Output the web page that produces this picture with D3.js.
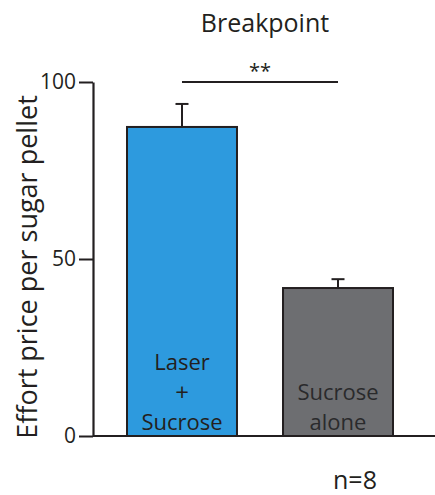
<!DOCTYPE html>
<html>
<head>
<meta charset="utf-8">
<script src="https://cdn.jsdelivr.net/npm/d3@7"></script>
<style>
  body { margin: 0; background: #fff; }
  text { font-family: "Open Sans", "Noto Sans", sans-serif; fill: #231f20; }
</style>
</head>
<body>
<div id="chart"></div>
<script>
// data
let groups = ["laser", "alone"];
let labels = [["Laser", "+", "Sucrose"], ["Sucrose", "alone"]];
let means = [87.3, 41.8];
let errors = [6.5, 2.5];
let colors = ["#2d9ade", "#6d6e71"];
let yTicks = [0, 50, 100];

let width = 435, height = 495;

let svg = d3.select("#chart")
    .append("svg")
    .attr("width", width)
    .attr("height", height);

let x = d3.scaleBand()
    .domain(groups)
    .range([127, 393])
    .paddingInner(0.295)
    .paddingOuter(0);

let y = d3.scaleLinear()
    .domain([0, 100])
    .range([436, 82]);

// title
svg.append("text")
    .attr("x", 265)
    .attr("y", 32)
    .attr("text-anchor", "middle")
    .style("font-size", "25px")
    .text("Breakpoint");

// y axis
let yAxis = svg.append("g")
    .attr("transform", "translate(93,0)")
    .call(d3.axisLeft(y).tickValues(yTicks).tickSize(14).tickSizeOuter(0).tickPadding(3));
yAxis.select(".domain").attr("stroke", "#231f20").attr("stroke-width", 2.2);
yAxis.selectAll(".tick line").attr("stroke", "#231f20").attr("stroke-width", 2);
yAxis.selectAll(".tick text")
    .style("font-size", "21px")
    .style("font-family", "'Open Sans', sans-serif")
    .attr("fill", "#231f20");

svg.append("text")
    .attr("transform", "translate(37," + 267 + ") rotate(-90)")
    .attr("text-anchor", "middle")
    .style("font-size", "27px")
    .text("Effort price per sugar pellet");

// bars
let bars = svg.append("g")
    .selectAll("g")
    .data(groups)
    .enter()
    .append("g");

bars.append("rect")
    .attr("x", d => x(d))
    .attr("y", (d, i) => y(means[i]))
    .attr("width", x.bandwidth())
    .attr("height", (d, i) => y(0) - y(means[i]))
    .attr("fill", (d, i) => colors[i])
    .attr("stroke", "#231f20")
    .attr("stroke-width", 2);

// error bars
bars.append("line")
    .attr("x1", d => x(d) + x.bandwidth() / 2)
    .attr("x2", d => x(d) + x.bandwidth() / 2)
    .attr("y1", (d, i) => y(means[i]))
    .attr("y2", (d, i) => y(means[i] + errors[i]))
    .attr("stroke", "#231f20")
    .attr("stroke-width", 2);

bars.append("line")
    .attr("x1", d => x(d) + x.bandwidth() / 2 - 6.5)
    .attr("x2", d => x(d) + x.bandwidth() / 2 + 6.5)
    .attr("y1", (d, i) => y(means[i] + errors[i]))
    .attr("y2", (d, i) => y(means[i] + errors[i]))
    .attr("stroke", "#231f20")
    .attr("stroke-width", 2);

// labels inside the bars
bars.each(function(d, i) {
    let lines = labels[i];
    let cx = x(d) + x.bandwidth() / 2;
    d3.select(this).selectAll(".lbl")
        .data(lines)
        .enter()
        .append("text")
        .attr("class", "lbl")
        .attr("x", cx)
        .attr("y", (t, j) => y(0) - 6 - (lines.length - 1 - j) * 30 + (t == "+" ? 1 : 0))
        .attr("text-anchor", "middle")
        .style("font-size", t => t == "+" ? "24px" : "22px")
        .style("fill", i == 0 ? "#231f20" : "#2a2a2c")
        .text(t => t);
});

// baseline
svg.append("line")
    .attr("x1", 93)
    .attr("x2", width)
    .attr("y1", y(0))
    .attr("y2", y(0))
    .attr("stroke", "#231f20")
    .attr("stroke-width", 2);

// significance
let c0 = x(groups[0]) + x.bandwidth() / 2;
let c1 = x(groups[1]) + x.bandwidth() / 2;
svg.append("line")
    .attr("x1", c0)
    .attr("x2", c1)
    .attr("y1", y(100))
    .attr("y2", y(100))
    .attr("stroke", "#231f20")
    .attr("stroke-width", 2);

svg.append("text")
    .attr("x", (c0 + c1) / 2)
    .attr("y", y(100) - 4)
    .attr("text-anchor", "middle")
    .style("font-size", "20px")
    .text("**");

svg.append("text")
    .attr("x", 355)
    .attr("y", 489)
    .attr("text-anchor", "middle")
    .style("font-size", "25px")
    .text("n=8");
</script>
</body>
</html>
